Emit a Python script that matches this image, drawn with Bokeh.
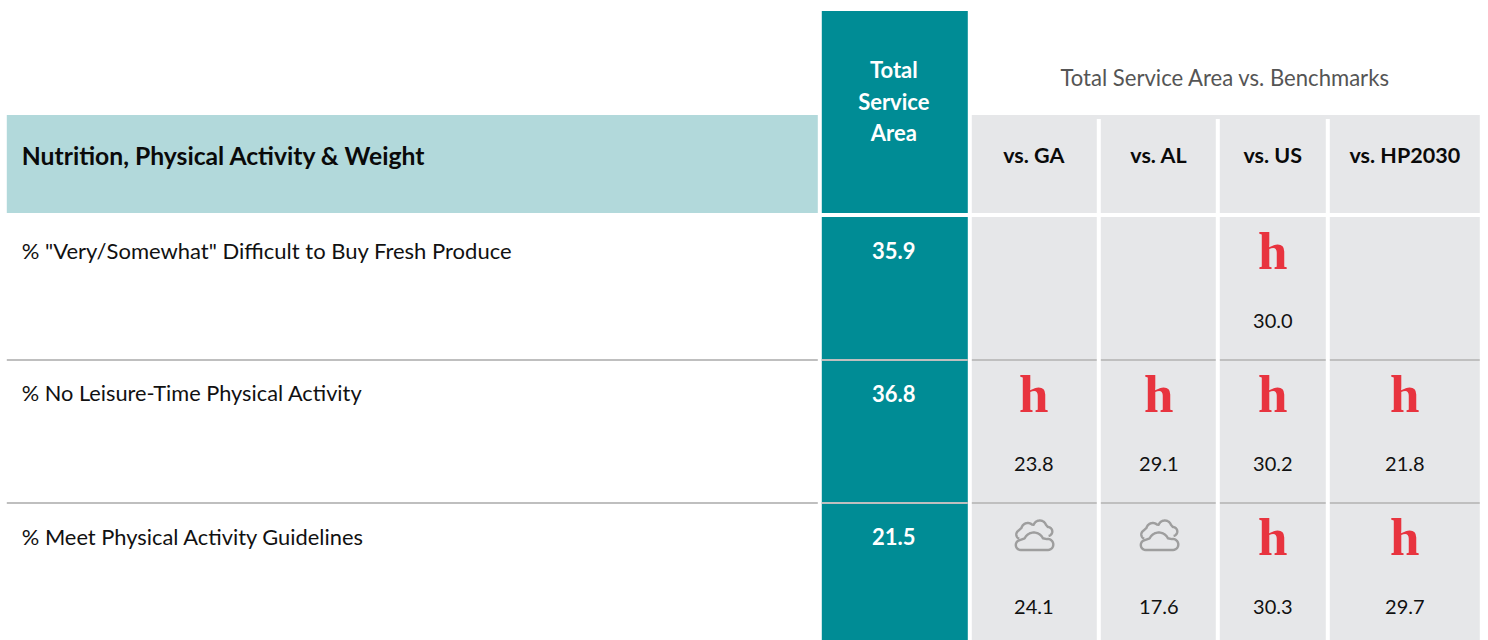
import numpy as np
from bokeh.plotting import figure
from bokeh.models import Range1d
from bokeh.core.properties import value
from bokeh.embed import file_html
from bokeh.resources import INLINE

section_title = "Nutrition, Physical Activity & Weight"
total_header = ["Total", "Service", "Area"]
benchmark_title = "Total Service Area vs. Benchmarks"
benchmark_names = ["vs. GA", "vs. AL", "vs. US", "vs. HP2030"]
row_labels = ['% "Very/Somewhat" Difficult to Buy Fresh Produce',
              "% No Leisure-Time Physical Activity",
              "% Meet Physical Activity Guidelines"]
total_values = ["35.9", "36.8", "21.5"]
vs_ga = [None, "23.8", "24.1"]
vs_al = [None, "29.1", "17.6"]
vs_us = ["30.0", "30.2", "30.3"]
vs_hp = [None, "21.8", "29.7"]
# h = unfavourable marker, c = neutral cloud marker, None = empty cell
mark_ga = [None, "h", "c"]
mark_al = [None, "h", "c"]
mark_us = ["h", "h", "h"]
mark_hp = [None, "h", "h"]

TEAL, PALE, GREY, RULE, RED = "#008C95", "#B2D9DB", "#E6E7E9", "#BFBFBF", "#E8343F"
CLOUD = "#9E9E9E"
BODY = "Lato"

# layout in page pixels
col_edges = [(972, 1097), (1101, 1216), (1220, 1326), (1330, 1480)]
col_mid = [1034, 1159, 1273, 1405]
row_tops = [217, 361, 504]
row_bottoms = [359, 502, 641]
rule_y = [360, 503]
row_text_y = [250, 393, 536]
val_y = [321, 464, 607]
mark_y = [250, 393, 536]
row_font = [22, 21.75, 21.85]
LX = 7; LR = 818; TL = 822; TR = 968; TC = 894

p = figure(width=1488, height=640, output_backend="svg", toolbar_location=None,
           x_range=Range1d(0.7, 1488.7), y_range=Range1d(640.5, 0.5),
           min_border=0, outline_line_color=None, margin=(0, 0, 0, 0))
p.xaxis.visible = False
p.yaxis.visible = False
p.grid.visible = False
p.background_fill_color = "white"
p.border_fill_color = "white"


def box(l, r, t, b, c):
    p.quad(left=l, right=r, top=t, bottom=b, fill_color=c, line_color=None)


def txt(x, y, s, size, color="#111111", bold=False, align="center", font=BODY):
    p.text(x=[x], y=[y], text=[s], text_font=value(font), text_font_size=f"{size}px",
           text_color=color, text_font_style="bold" if bold else "normal",
           text_align=align, text_baseline="middle")


box(LX, LR, 115, 213, PALE)
box(TL, TR, 11, 213, TEAL)
box(972, 1480, 115, 119, GREY)
for (l, r) in col_edges:
    box(l, r, 119, 213, GREY)
    for t, b in zip(row_tops, row_bottoms):
        box(l, r, t, b, GREY)
box(TL, TR, 217, 641, TEAL)

# row rules
for y in rule_y:
    p.line([LX, LR], [y, y], line_color=RULE, line_width=2)
    p.line([TL, TR], [y, y], line_color=RULE, line_width=2)
    for (l, r) in col_edges:
        p.line([l, r], [y, y], line_color=RULE, line_width=2)

txt(22, 155, section_title, 24.7, "#0a0a0a", True, "left")
for y, s in zip([69, 101, 132], total_header):
    txt(TC, y, s, 22, "white", True)
txt(1225.5, 77, benchmark_title, 22.1, "#555555")
for x, s in zip(col_mid, benchmark_names):
    txt(x, 155, s, 21.5, "#0a0a0a", True)

for y, s, t, fs in zip(row_text_y, row_labels, total_values, row_font):
    txt(22, y, s, fs, "#111111", False, "left")
    txt(TC, y, t, 22, "white", True)


def arc(cx, cy, r, a0, a1):
    a = np.radians(np.linspace(a0, a1, 24))
    return list(cx + r * np.cos(a)), list(cy + r * np.sin(a))


def cloud(cx, cy):
    # front cloud outline, then back cloud outline (icon shape, y down)
    fx, fy = [], []
    for a in [(-13, 9, 5, 90, 250), (0, 6.5, 10, 205, 335), (14, 8.5, 5.5, 260, 450)]:
        xs, ys = arc(*a)
        fx += xs
        fy += ys
    fx.append(fx[0]); fy.append(fy[0])
    bx, by = [], []
    for a in [(-13, -1.5, 4.5, 110, 235), (-6, -6.5, 6.5, 195, 310), (6, -9, 6.5, 200, 340), (14, -4.5, 4.5, 270, 440)]:
        xs, ys = arc(*a)
        bx += xs
        by += ys
    p.line([cx + v for v in fx], [cy + v for v in fy], line_color=CLOUD, line_width=2.4, line_join="round")
    p.line([cx + v for v in bx], [cy + v for v in by], line_color=CLOUD, line_width=2.4, line_join="round")


for x, vals, marks in zip(col_mid, [vs_ga, vs_al, vs_us, vs_hp], [mark_ga, mark_al, mark_us, mark_hp]):
    for v, m, my, vy in zip(vals, marks, mark_y, val_y):
        if v is not None:
            txt(x, vy, v, 20, "#111111")
        if m == "h":
            txt(x, my + 1, "h", 53, RED, True, font="Liberation Serif")
        elif m == "c":
            cloud(x, my)

open("out.html", "w").write(file_html(p, INLINE))
